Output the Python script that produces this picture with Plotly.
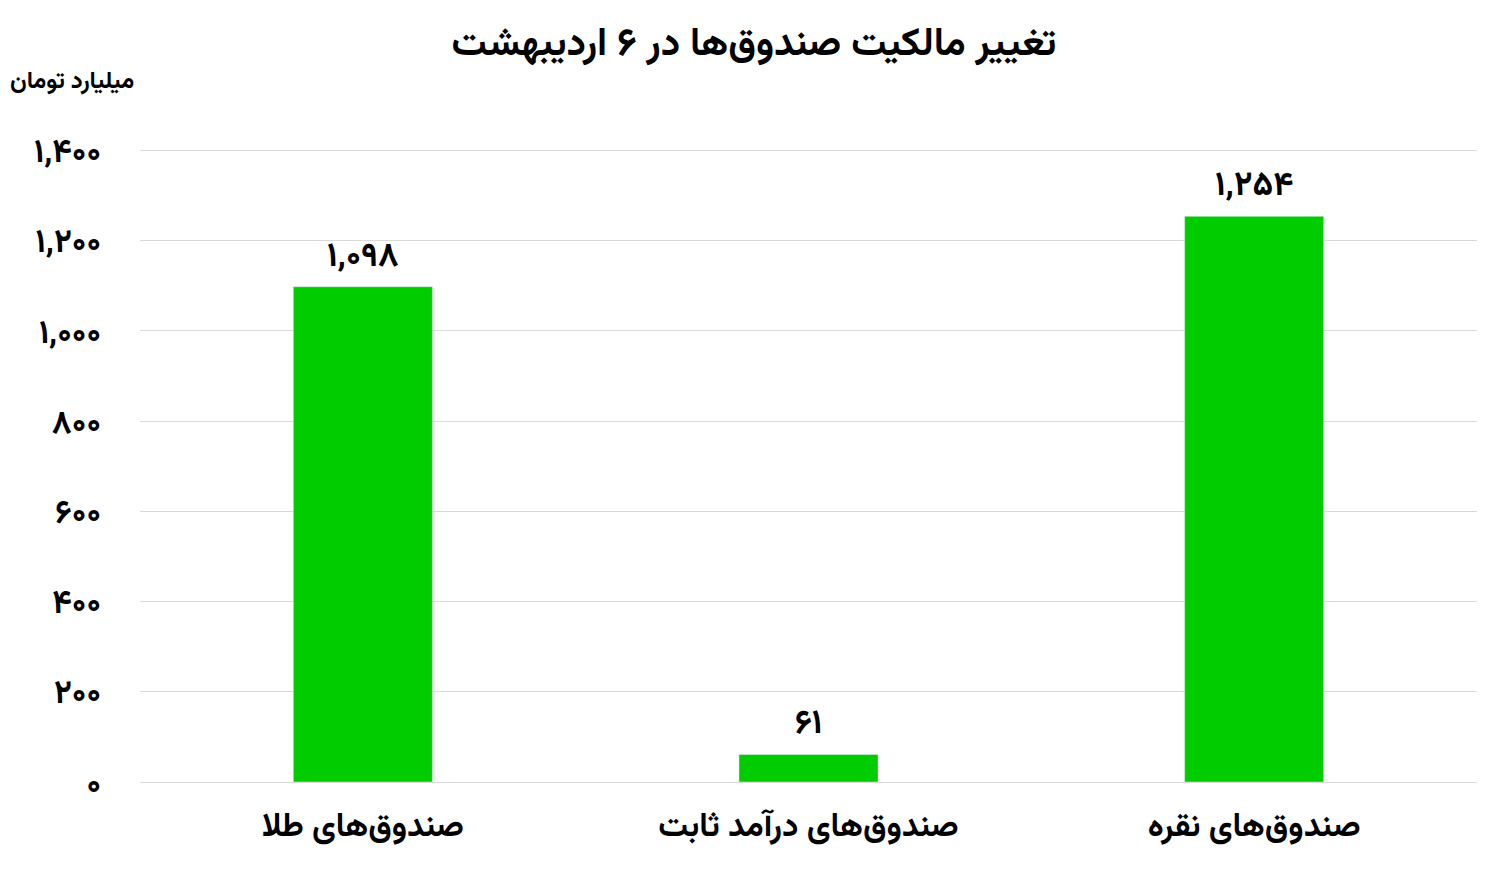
import plotly.graph_objects as go

categories = ["صندوق‌های طلا", "صندوق‌های درآمد ثابت", "صندوق‌های نقره"]
values = [1098, 61, 1254]
tick_values = [0, 200, 400, 600, 800, 1000, 1200, 1400]

title_text = "تغییر مالکیت صندوق‌ها در ۶ اردیبهشت"
unit_text = "میلیارد تومان"

FA = str.maketrans("0123456789", "۰۱۲۳۴۵۶۷۸۹")

def fa(n):
    return f"{n:,}".translate(FA)

FONT = "Vazirmatn, 'Noto Sans Arabic', 'DejaVu Sans', sans-serif"

fig = go.Figure(
    go.Bar(
        x=categories,
        y=values,
        marker_color="#00CC00",
        text=[fa(v) for v in values],
        textposition="outside",
        textfont=dict(size=34, color="black", family=FONT, weight="bold"),
        cliponaxis=False,
    )
)

fig.update_layout(
    width=1492,
    height=865,
    paper_bgcolor="white",
    plot_bgcolor="white",
    margin=dict(l=132, r=23, t=138, b=91),
    bargap=0.688,
    showlegend=False,
    font=dict(family=FONT, color="black"),
    title=dict(
        text=title_text,
        x=0.5,
        xanchor="center",
        y=0.962,
        yanchor="middle",
        font=dict(size=39, family=FONT, color="black", weight="bold"),
    ),
    annotations=[
        dict(
            text=unit_text,
            xref="paper",
            yref="paper",
            x=-0.0987,
            y=1.1,
            xanchor="left",
            yanchor="middle",
            showarrow=False,
            font=dict(size=24, family=FONT, color="black", weight="bold"),
        )
    ],
)

fig.update_xaxes(
    showgrid=False,
    showline=False,
    ticks="",
    tickfont=dict(size=33, family=FONT, color="black", weight="bold"),
    ticklabelstandoff=20,
)

fig.update_yaxes(
    range=[0, 1410],
    tickvals=tick_values,
    ticktext=[fa(v) for v in tick_values],
    showgrid=True,
    gridcolor="#d9d9d9",
    gridwidth=1,
    zeroline=True,
    zerolinecolor="#d9d9d9",
    zerolinewidth=1,
    showline=False,
    ticks="",
    tickfont=dict(size=33, family=FONT, color="black", weight="bold"),
    ticklabelstandoff=38,
)

fig.write_html("out.html")
